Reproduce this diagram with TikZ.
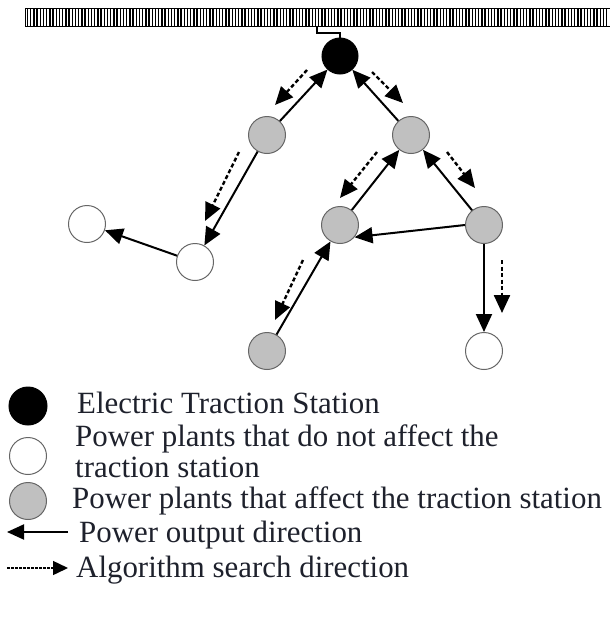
\documentclass[tikz,border=0pt]{standalone}
\usepackage{fontspec}
\setmainfont{Liberation Serif}
\usetikzlibrary{arrows.meta}

\definecolor{legtext}{RGB}{30,33,44}
\definecolor{plantgray}{RGB}{192,192,192}

\begin{document}
\begin{tikzpicture}[x=1pt,y=-1pt,>={Triangle[length=18pt,width=16pt]},
    plant/.style={circle,draw=black!60,line width=1pt,minimum size=37pt,inner sep=0pt},
    feed/.style={->,line width=2pt},
    search/.style={->,line width=2.4pt,dash pattern=on 4pt off 2.5pt},
    legend/.style={anchor=base west,inner sep=0pt,text=legtext,font=\fontsize{30.9}{36}\selectfont}]

  \useasboundingbox (0,0) rectangle (610,622);

  % Busbar
  \draw[line width=1pt] (25,8) rectangle (610,26);
  \foreach \i in {0,...,181}
    \draw[line width=1.3pt] ({27.5+3.2*\i},8) -- ({27.5+3.2*\i},26);

  % Traction station and plants
  \node[plant,fill=black,draw=black,minimum size=36pt] (ts) at (340,56) {};
  \node[plant,fill=plantgray] (gl) at (267,135) {};
  \node[plant,fill=plantgray] (gr) at (411,135) {};
  \node[plant,fill=white] (wl) at (87,224) {};
  \node[plant,fill=white] (wm) at (195,262) {};
  \node[plant,fill=plantgray] (gm) at (340,225) {};
  \node[plant,fill=plantgray] (gx) at (484,225) {};
  \node[plant,fill=plantgray] (gb) at (267,351) {};
  \node[plant,fill=white] (wb) at (484,351) {};

  % Feeder from busbar
  \coordinate (tap) at (317,26);
  \draw[line width=1.5pt] (tap) -- ++(0,7) -| (ts.north);

  % Power output
  \draw[feed] (gl) -- (ts);
  \draw[feed] (gr) -- (ts);
  \draw[feed] (gl) -- (wm);
  \draw[feed] (wm) -- (wl);
  \draw[feed] (gm) -- (gr);
  \draw[feed] (gx) -- (gr);
  \draw[feed] (gx.west) -- (gm.-40);
  \draw[feed] (gb) -- (gm);
  \draw[feed] (gx) -- (wb);

  % Search direction
  \coordinate (s1a) at (307,70);    \coordinate (s1b) at (275,105);
  \coordinate (s2a) at (372,72);    \coordinate (s2b) at (403,103);
  \coordinate (s3a) at (239,152);   \coordinate (s3b) at (205,221);
  \coordinate (s4a) at (377,152);   \coordinate (s4b) at (340,198);
  \coordinate (s5a) at (447,152);   \coordinate (s5b) at (475,188);
  \coordinate (s6a) at (303,260);   \coordinate (s6b) at (275,320);
  \coordinate (s7a) at (502,260);   \coordinate (s7b) at (502,313);
  \draw[search] (s1a) -- (s1b);
  \draw[search] (s2a) -- (s2b);
  \draw[search] (s3a) -- (s3b);
  \draw[search] (s4a) -- (s4b);
  \draw[search] (s5a) -- (s5b);
  \draw[search] (s6a) -- (s6b);
  \draw[search] (s7a) -- (s7b);

  % Legend
  \node[plant,fill=black,draw=black,minimum size=38pt] (k1) at (28,406) {};
  \node[plant,fill=white] (k2) at (28,456) {};
  \node[plant,fill=plantgray] (k3) at (28,501) {};
  \node[legend] (t1) at (77,413) {Electric Traction Station};
  \node[legend] (t2) at (75,446) {Power plants that do not affect the};
  \node[legend] (t3) at (75,477) {traction station};
  \node[legend] (t4) at (72,508) {Power plants that affect the traction station};
  \coordinate (a1) at (68,532);  \coordinate (a2) at (7,532);
  \draw[feed,>={Triangle[length=17pt,width=15pt]}] (a1) -- (a2);
  \node[legend] (t5) at (79,542) {Power output direction};
  \coordinate (b1) at (7,568);   \coordinate (b2) at (68,568);
  \draw[->,line width=1.5pt,dash pattern=on 2.5pt off 1.5pt,>={Triangle[length=15pt,width=14pt]}] (b1) -- (b2);
  \node[legend] (t6) at (76,577) {Algorithm search direction};

\end{tikzpicture}
\end{document}
